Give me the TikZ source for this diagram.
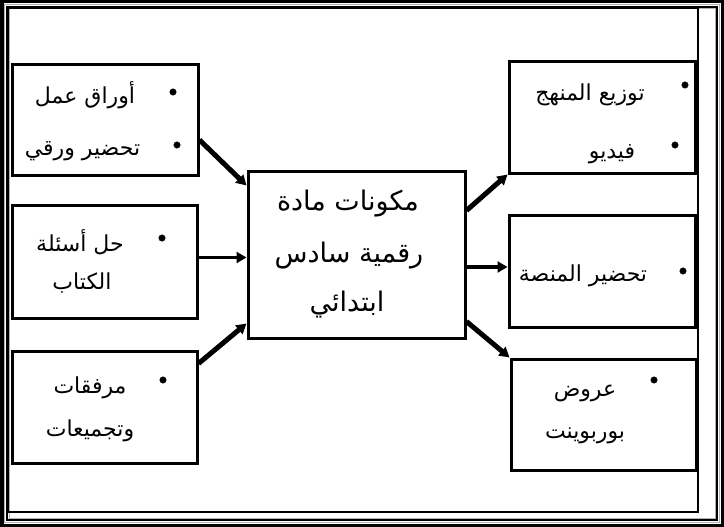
\documentclass[tikz,border=0pt]{standalone}
\usepackage{fontspec}
\usepackage{tikz}
\usetikzlibrary{arrows.meta}
\TeXXeTstate=1
\newfontfamily\arabicfont[Script=Arabic]{DejaVu Sans}
\tikzset{
    box/.style={rectangle, draw, line width=3pt, inner sep=0pt},
    dot/.style={circle, fill, draw, minimum size=6.5pt, inner sep=0pt},
    txt/.style={anchor=base, inner sep=0pt,
        font=\arabicfont\fontsize{22}{26}\selectfont},
    arr/.style={line width=5pt, -{Triangle[length=10pt, width=11pt]}}
}

\begin{document}
\begin{tikzpicture}[x=1pt, y=-1pt]
  \useasboundingbox (0, 0) rectangle (724, 527);
  % frame
  \draw [line width=3.5pt] (1.75, 1.75) rectangle (722.25, 525.25);
  \draw [line width=1.5pt, gray!60] (4.5, 4.5) rectangle (719.5, 522.5);
  \draw [line width=2pt] (7, 7) rectangle (717, 520);
  \draw [line width=1pt, gray!60] (9, 9) rectangle (715, 518);
  \draw [line width=2pt] (8, 8) rectangle (698, 512);

  % boxes
  \node (l_1) [box, minimum width=186pt, minimum height=110pt] at (105, 120) {};
  \node (l_2) [box, minimum width=185pt, minimum height=113pt] at (104.5, 261.5) {};
  \node (l_3) [box, minimum width=185pt, minimum height=112pt] at (104.5, 407) {};
  \node (c) [box, minimum width=217pt, minimum height=167pt] at (356.5, 254.5) {};
  \node (r_1) [box, minimum width=186pt, minimum height=111pt] at (602, 117.5) {};
  \node (r_2) [box, minimum width=186pt, minimum height=112pt] at (602, 271) {};
  \node (r_3) [box, minimum width=185pt, minimum height=111pt] at (603.5, 414.5) {};

  % texts
  \node (l_1_a) [txt] at (85, 104) {\beginR أوراق عمل\endR};
  \node (l_1_b) [txt] at (82.5, 156) {\beginR تحضير ورقي\endR};
  \node (l_2_a) [txt] at (80, 251) {\beginR حل أسئلة\endR};
  \node (l_2_b) [txt] at (82, 289) {\beginR الكتاب\endR};
  \node (l_3_a) [txt] at (90, 393) {\beginR مرفقات\endR};
  \node (l_3_b) [txt] at (90, 436) {\beginR وتجميعات\endR};
  \node (c_a) [txt, font=\arabicfont\fontsize{27}{32}\selectfont] at (348, 211) {\beginR مكونات مادة\endR};
  \node (c_b) [txt, font=\arabicfont\fontsize{27}{32}\selectfont] at (349, 262) {\beginR رقمية سادس\endR};
  \node (c_c) [txt, font=\arabicfont\fontsize{27}{32}\selectfont] at (347, 311) {\beginR ابتدائي\endR};
  \node (r_1_a) [txt] at (590, 101) {\beginR توزيع المنهج\endR};
  \node (r_1_b) [txt] at (612, 158) {\beginR فيديو\endR};
  \node (r_2_a) [txt] at (583, 281) {\beginR تحضير المنصة\endR};
  \node (r_3_a) [txt] at (585, 396) {\beginR عروض\endR};
  \node (r_3_b) [txt] at (585, 438) {\beginR بوربوينت\endR};

  % bullets
  \node (d_1) [dot] at (173, 92) {};
  \node (d_2) [dot] at (177, 145) {};
  \node (d_3) [dot] at (162, 238) {};
  \node (d_4) [dot] at (163, 380) {};
  \node (d_5) [dot] at (685, 85) {};
  \node (d_6) [dot] at (675, 145) {};
  \node (d_7) [dot] at (683, 271) {};
  \node (d_8) [dot] at (654, 380) {};

  % arrows
  \draw [arr] ([yshift=-20pt]l_1.east) -- ([yshift=-16pt]c.north west);
  \draw [arr, line width=3.5pt] ([yshift=4pt]l_2.east) -- ([yshift=4pt]l_2.east -| c.west);
  \draw [arr] ([yshift=-14pt]l_3.north east) -- ([yshift=16pt]c.south west);
  \draw [arr] ([yshift=-41pt]c.north east) -- (r_1.south west);
  \draw [arr, line width=3.5pt] ([yshift=4pt]r_2.west -| c.east) -- ([yshift=4pt]r_2.west);
  \draw [arr] ([yshift=18pt]c.south east) -- (r_3.north west);
\end{tikzpicture}
\end{document}
